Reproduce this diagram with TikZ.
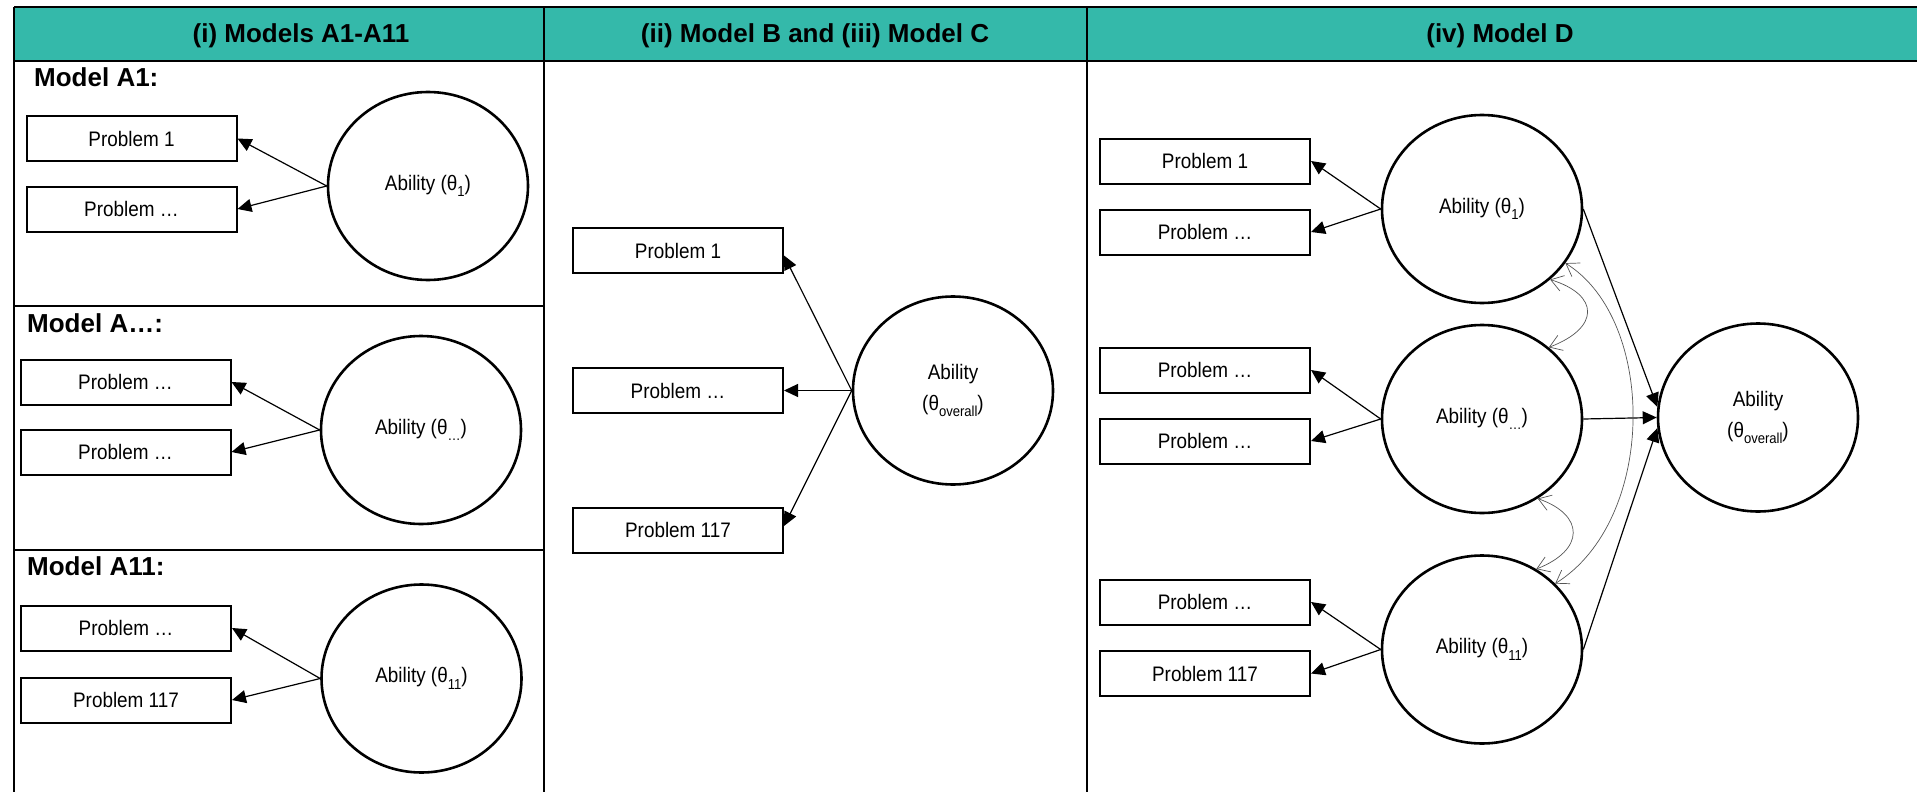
\documentclass[tikz,border=0pt]{standalone}
\usepackage{fontspec}
\setmainfont{Liberation Sans}
\newfontfamily\nar[FakeStretch=0.9]{Liberation Sans}
\usetikzlibrary{arrows.meta,shapes.geometric}
\definecolor{hdrteal}{RGB}{52,185,170}
\definecolor{corrgray}{RGB}{85,85,85}
\newcommand\subx[1]{\raisebox{-0.32em}{\fontsize{14.5}{14.5}\selectfont #1}}
\tikzset{
  probbox/.style={draw, line width=2pt, minimum width=210pt, minimum height=45pt, inner sep=0pt, font={\nar\fontsize{21}{26}\selectfont}},
  latent/.style={draw, ellipse, line width=2.6pt, minimum width=200pt, minimum height=188pt, inner sep=0pt, align=center, font={\nar\fontsize{21}{31}\selectfont}},
  hdrtext/.style={anchor=base, inner sep=0pt, font={\bfseries\fontsize{26}{30}\selectfont}},
  modlabel/.style={anchor=base west, inner sep=0pt, font={\bfseries\fontsize{26}{30}\selectfont}},
  frameline/.style={line width=2pt},
  arr/.style={-{Triangle[length=14pt,width=13pt]}, line width=1.2pt},
  corr/.style={{Straight Barb[length=12pt,width=16pt]}-{Straight Barb[length=12pt,width=16pt]}, draw=corrgray, line width=0.7pt}
}
\begin{document}
\begin{tikzpicture}[x=1pt,y=-1pt]
\useasboundingbox (0,0) rectangle (1917,792);
\clip (0,0) rectangle (1917,792);
% frame
\fill[hdrteal] (14,7) rectangle (1950,61);
\draw[frameline] (14,7) -- (1950,7);
\draw[frameline] (14,61) -- (1950,61);
\draw[frameline] (14,7) -- (14,810);
\draw[frameline] (544,7) -- (544,810);
\draw[frameline] (1087,7) -- (1087,810);
\draw[frameline] (14,306) -- (544,306);
\draw[frameline] (14,550) -- (544,550);
% headers
\node[hdrtext] (h1) at (301,43) {(i) Models A1-A11};
\node[hdrtext] (h2) at (815,43) {(ii) Model B and (iii) Model C};
\node[hdrtext] (h3) at (1500,43) {(iv) Model D};
% column 1
\node[modlabel] (lA1) at (34,87) {Model A1:};
\node[modlabel] (lAm) at (27,332) {Model A…:};
\node[modlabel] (lA11) at (27,575) {Model A11:};

\node[probbox] (a1p1) at (131.5,138.5) {Problem 1};
\node[probbox] (a1p2) at (131.5,209) {Problem …};
\node[latent] (a1t) at (428,186) {Ability (θ\subx{1})};
\draw[arr] (a1t.west) -- (a1p1.east);
\draw[arr] (a1t.west) -- (a1p2.east);

\node[probbox] (amp1) at (125.5,382) {Problem …};
\node[probbox] (amp2) at (125.5,452) {Problem …};
\node[latent] (amt) at (421,430) {Ability (θ\subx{…})};
\draw[arr] (amt.west) -- (amp1.east);
\draw[arr] (amt.west) -- (amp2.east);

\node[probbox] (a11p1) at (126,628) {Problem …};
\node[probbox] (a11p2) at (126,700) {Problem 117};
\node[latent] (a11t) at (421.5,678.5) {Ability (θ\subx{11})};
\draw[arr] (a11t.west) -- (a11p1.east);
\draw[arr] (a11t.west) -- (a11p2.east);
% column 2
\node[probbox] (bp1) at (678,250.5) {Problem 1};
\node[probbox] (bp2) at (678,390.5) {Problem …};
\node[probbox] (bp3) at (678,530) {Problem 117};
\node[latent] (bt) at (953,390.5) {Ability\\(θ\subx{overall})};
\draw[arr] (bt.west) -- ([yshift=-5pt]bp1.east);
\draw[arr] (bt.west) -- (bp2.east);
\draw[arr] (bt.west) -- ([yshift=4pt]bp3.east);
% column 4
\node[probbox] (dp1) at (1205,161) {Problem 1};
\node[probbox] (dp2) at (1205,232) {Problem …};
\node[probbox] (dp3) at (1205,370) {Problem …};
\node[probbox] (dp4) at (1205,441) {Problem …};
\node[probbox] (dp5) at (1205,602) {Problem …};
\node[probbox] (dp6) at (1205,673.5) {Problem 117};
\node[latent] (d1) at (1482,209) {Ability (θ\subx{1})};
\node[latent] (dm) at (1482,419) {Ability (θ\subx{…})};
\node[latent] (d11) at (1482,649.5) {Ability (θ\subx{11})};
\node[latent] (dov) at (1758,417.5) {Ability\\(θ\subx{overall})};
\draw[arr] (d1.west) -- (dp1.east);
\draw[arr] (d1.west) -- (dp2.east);
\draw[arr] (dm.west) -- (dp3.east);
\draw[arr] (dm.west) -- (dp4.east);
\draw[arr] (d11.west) -- (dp5.east);
\draw[arr] (d11.west) -- (dp6.east);
\draw[arr] (d1.east) -- (dov.174);
\draw[arr] (dm.east) -- (dov.west);
\draw[arr] (d11.east) -- (dov.186);
% correlations
\draw[corr] (d1.-46) .. controls (1600,295) and (1600,328) .. (dm.47);
\draw[corr] (dm.-55) .. controls (1585,515) and (1585,550) .. (d11.56);
\draw[corr] (d1.-33) .. controls (1657,320) and (1657,520) .. (d11.42);
\end{tikzpicture}
\end{document}
